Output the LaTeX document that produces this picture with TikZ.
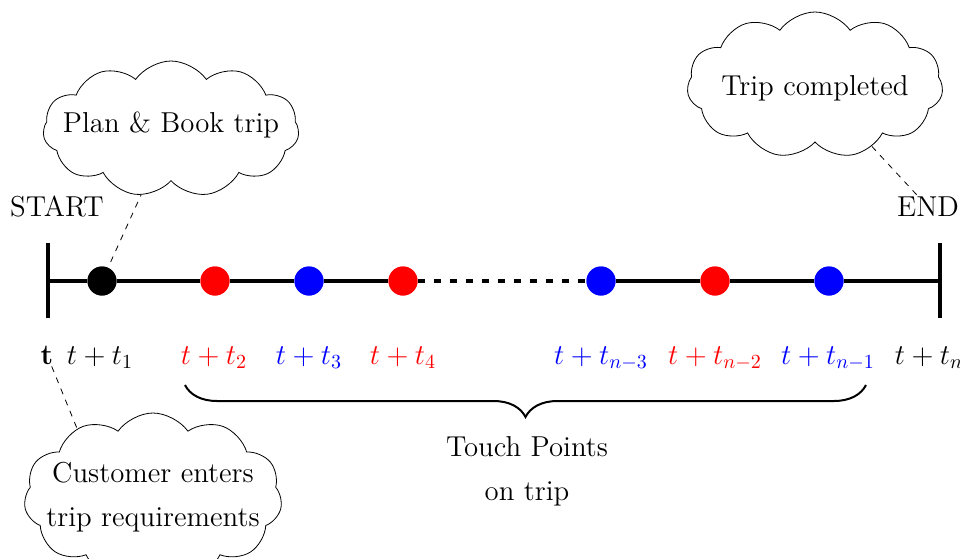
\documentclass[tikz,border=0pt]{standalone}
\usetikzlibrary{shapes.symbols,decorations.pathreplacing}
\begin{document}
\begin{tikzpicture}[x=0.5pt,y=-0.5pt,
  txt/.style={font=\Large, inner sep=1pt},
  tlabel/.style={font=\Large, anchor=base, inner sep=1pt},
  dotnode/.style={circle, fill=#1, minimum size=14.5pt, inner sep=0pt},
  thought/.style={cloud, draw, cloud puffs=11, cloud puff arc=110, aspect=2, inner sep=0pt},
  cloudtext/.style={font=\Large, align=center, inner sep=0pt},
  connector/.style={dashed, thin},
  timeline/.style={line width=2pt},
  endtick/.style={line width=1.7pt}]
\useasboundingbox (0,0) rectangle (960,558);
\clip (0,0) rectangle (960,558);
% end ticks
\coordinate (s0) at (48,281);
\coordinate (e0) at (940,281);
\coordinate (stop) at (48,243);
\coordinate (sbot) at (48,318);
\coordinate (etop) at (940,243);
\coordinate (ebot) at (940,318);
% dots
\node[dotnode=black] (d1) at (102,281) {};
\node[dotnode=red]   (d2) at (215,281) {};
\node[dotnode=blue]  (d3) at (309,281) {};
\node[dotnode=red]   (d4) at (403,281) {};
\node[dotnode=blue]  (d5) at (601,281) {};
\node[dotnode=red]   (d6) at (715,281) {};
\node[dotnode=blue]  (d7) at (829,281) {};
\draw[timeline] (s0) -- (d1) -- (d2) -- (d3) -- (d4);
\draw[timeline, dash pattern=on 3.5pt off 4.5pt] (d4.east) -- (d5.west);
\draw[timeline] (d5) -- (d6) -- (d7) -- (e0);
\node[dotnode=black] at (d1) {};
\node[dotnode=red]   at (d2) {};
\node[dotnode=blue]  at (d3) {};
\node[dotnode=red]   at (d4) {};
\node[dotnode=blue]  at (d5) {};
\node[dotnode=red]   at (d6) {};
\node[dotnode=blue]  at (d7) {};
\draw[endtick] (stop) -- (sbot);
\draw[endtick] (etop) -- (ebot);
% START / END
\node[txt] (start) at (57,207) {START};
\node[txt] (end) at (928,207) {END};
% time labels
\node[tlabel] (tl) at (47,364) {$\mathbf{t}$};
\node[tlabel] (l1) at (100,364) {$t+t_1$};
\node[tlabel, text=red] (l2) at (214,364) {$t+t_2$};
\node[tlabel, text=blue] (l3) at (309,364) {$t+t_3$};
\node[tlabel, text=red] (l4) at (403,364) {$t+t_4$};
\node[tlabel, text=blue] (l5) at (601,364) {$t+t_{n-3}$};
\node[tlabel, text=red] (l6) at (715,364) {$t+t_{n-2}$};
\node[tlabel, text=blue] (l7) at (828,364) {$t+t_{n-1}$};
\node[tlabel] (l8) at (929,364) {$t+t_n$};
% brace
\coordinate (bl) at (185,385);
\coordinate (br) at (866,385);
\draw[line width=1pt, decorate, decoration={brace, mirror, amplitude=16pt}] (bl) -- (br);
\node[txt, align=center] (touch) at (527,471) {Touch Points\\[4pt]on trip};
% clouds
\node[thought, minimum width=128pt, minimum height=68pt,
  label={[cloudtext, yshift=2pt]center:Plan \& Book trip}] (plan) at (171,129) {};
\node[thought, minimum width=128pt, minimum height=73pt,
  label={[cloudtext, yshift=-1.5pt]center:Trip completed}] (done) at (815,85) {};
\node[thought, minimum width=129pt, minimum height=84pt,
  label={[cloudtext]center:{Customer enters\\[4pt]trip requirements}}] (cust) at (153,497) {};
% connectors
\draw[connector, shorten <=3pt] (d1) -- (plan);
\draw[connector] (end) -- (done);
\draw[connector] (tl) -- (cust.138);
\end{tikzpicture}
\end{document}
